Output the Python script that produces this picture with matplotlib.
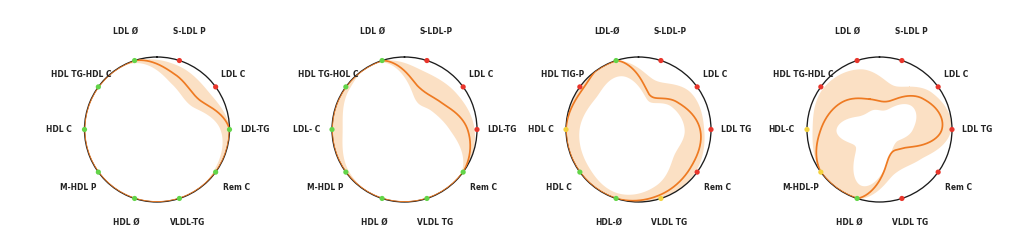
import numpy as np
import matplotlib
matplotlib.use("Agg")
import matplotlib.pyplot as plt

# ---------------- data ----------------
labels_1 = ["LDL Ø", "S-LDL P", "LDL C", "LDL-TG", "Rem C", "VLDL-TG", "HDL Ø", "M-HDL P", "HDL C", "HDL TG-HDL C"]
labels_2 = ["LDL Ø", "S-LDL-P", "LDL C", "LDL-TG", "Rem C", "VLDL TG", "HDL Ø", "M-HDL P", "LDL- C", "HDL TG-HOL C"]
labels_3 = ["LDL-Ø", "S-LDL-P", "LDL C", "LDL TG", "Rem C", "VLDL TG", "HDL-Ø", "HDL C", "HDL C", "HDL TIG-P"]
labels_4 = ["LDL Ø", "S-LDL P", "LDL C", "LDL TG", "Rem C", "VLDL TG", "HDL Ø", "M-HDL-P", "HDL-C", "HDL TG-HDL C"]

line_1 = [1.00, 0.80, 0.71, 1.00, 1.00, 1.00, 1.00, 1.00, 1.00, 1.00]
low_1  = [0.97, 0.66, 0.57, 0.87, 0.96, 1.00, 1.00, 1.00, 1.00, 1.00]
high_1 = [1.00, 0.93, 0.88, 1.00, 1.00, 1.00, 1.00, 1.00, 1.00, 1.00]

line_2 = [1.00, 0.62, 0.63, 0.87, 1.00, 1.00, 1.00, 1.00, 1.00, 1.00]
low_2  = [0.98, 0.45, 0.45, 0.62, 0.97, 1.00, 1.00, 0.96, 0.86, 0.95]
high_2 = [1.00, 0.85, 0.87, 0.96, 1.00, 1.00, 1.00, 1.00, 1.00, 1.00]

line_3 = [1.00, 0.50, 0.65, 0.85, 0.89, 0.95, 1.00, 1.00, 1.00, 0.95]
low_3  = [0.78, 0.42, 0.55, 0.63, 0.60, 0.80, 0.92, 0.86, 0.82, 0.74]
high_3 = [1.00, 0.72, 0.88, 0.90, 0.97, 1.00, 1.00, 1.00, 1.00, 1.00]

line_4 = [0.44, 0.41, 0.73, 0.86, 0.43, 0.41, 1.00, 1.00, 0.81, 0.64]
low_4  = [0.29, 0.29, 0.55, 0.45, 0.28, 0.40, 0.81, 0.41, 0.60, 0.33]
high_4 = [0.88, 0.64, 0.88, 0.98, 0.69, 0.64, 1.00, 1.00, 0.93, 0.97]

status_1 = ["ok", "high", "high", "ok", "ok", "ok", "ok", "ok", "ok", "ok"]
status_2 = ["ok", "high", "high", "high", "ok", "ok", "ok", "ok", "ok", "ok"]
status_3 = ["ok", "high", "high", "high", "high", "mid", "ok", "ok", "mid", "high"]
status_4 = ["high", "high", "high", "high", "high", "high", "ok", "mid", "mid", "high"]

panels = [
    (labels_1, line_1, low_1, high_1, status_1),
    (labels_2, line_2, low_2, high_2, status_2),
    (labels_3, line_3, low_3, high_3, status_3),
    (labels_4, line_4, low_4, high_4, status_4),
]

# ---------------- style ----------------
STATUS_COLORS = {"ok": "#62d548", "high": "#e8352b", "mid": "#f3d23e"}
ORANGE = "#ee7a22"
BAND = "#fbe0c4"
TEXT = "#242424"

W, H = 1024, 248
centers_x = [157, 404.5, 638.5, 879.5]
center_y = 129.5
R = 72.5


def smooth_closed(vals, n=60):
    v = np.asarray(vals, dtype=float)
    N = len(v)
    step = 2 * np.pi / N
    th0 = np.deg2rad(-18)
    ths, rs = [], []
    t = np.linspace(0, 1, n, endpoint=False)
    h00 = 2 * t**3 - 3 * t**2 + 1
    h10 = t**3 - 2 * t**2 + t
    h01 = -2 * t**3 + 3 * t**2
    h11 = t**3 - t**2
    for i in range(N):
        p0, p1 = v[i], v[(i + 1) % N]
        m0 = (v[(i + 1) % N] - v[i - 1]) / 2
        m1 = (v[(i + 2) % N] - v[i]) / 2
        rs.append(h00 * p0 + h10 * m0 + h01 * p1 + h11 * m1)
        ths.append(th0 + (i + t) * step)
    th = np.concatenate(ths + [[th0 + 2 * np.pi]])
    r = np.concatenate(rs + [[v[0]]])
    return th, np.clip(r, 0, 1)


def label_radius(a):
    c = np.cos(a)
    if c > 0.9:
        return 1.42
    if c > 0.5:
        return 1.30
    return 1.35


fig = plt.figure(figsize=(W / 100, H / 100), dpi=100)
fig.patch.set_facecolor("white")

for (labels, line, low, high, status), cx in zip(panels, centers_x):
    ax = fig.add_axes([(cx - R) / W, (H - center_y - R) / H, 2 * R / W, 2 * R / H],
                      projection="polar")
    ax.set_theta_zero_location("N")
    ax.set_theta_direction(-1)
    ax.set_ylim(0, 1)
    ax.grid(False)
    ax.set_xticks([])
    ax.set_yticks([])
    ax.patch.set_alpha(0)
    ax.spines["polar"].set_color("#1c1c1c")
    ax.spines["polar"].set_linewidth(0.95)

    n = len(labels)
    angles = np.deg2rad(-18 + 360 / n * np.arange(n))

    th, lo = smooth_closed(low)
    _, hi = smooth_closed(high)
    ax.fill_between(th, lo, hi, color=BAND, lw=0, zorder=1)

    th, ln = smooth_closed(line)
    ax.plot(th, ln, color=ORANGE, lw=1.25, zorder=3)

    ax.scatter(angles, np.ones(n), c=[STATUS_COLORS[s] for s in status],
               s=14, zorder=4, clip_on=False, linewidths=0)

    for a, lab in zip(angles, labels):
        ax.text(a, label_radius(a), lab, ha="center", va="center", fontsize=6.0,
                fontweight="bold", fontstretch="condensed", color=TEXT,
                family="DejaVu Sans", clip_on=False)

fig.savefig("out.png", dpi=100, facecolor="white")
